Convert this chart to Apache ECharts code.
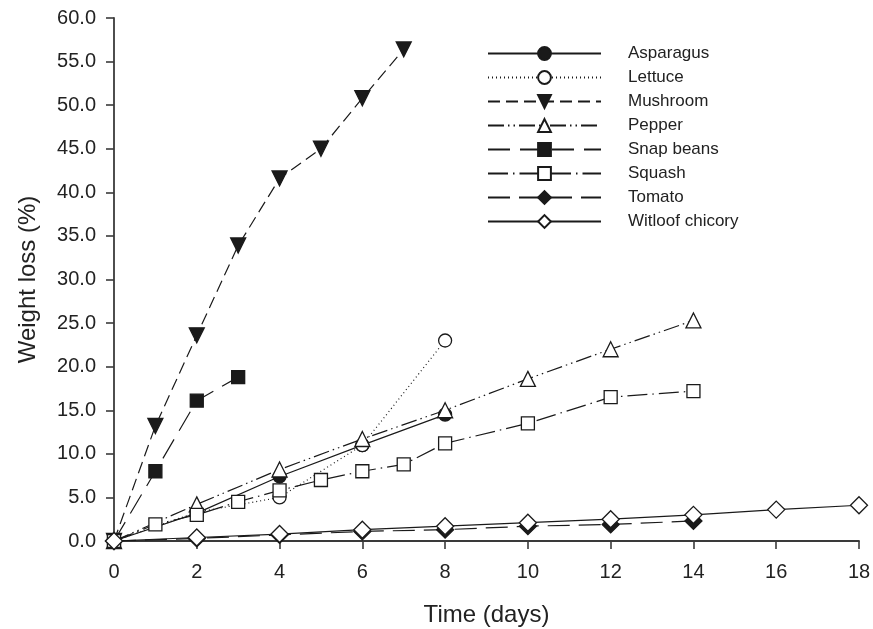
<!DOCTYPE html>
<html><head><meta charset="utf-8">
<script src="https://cdn.jsdelivr.net/npm/echarts@6/dist/echarts.min.js"></script>
<style>html,body{margin:0;padding:0;background:#fff}#c{width:873px;height:629px}</style>
</head><body><div id="c"></div>
<script>
const xTicks = [0,2,4,6,8,10,12,14,16,18];
const asparagusX = [0,2,4,6,8];
const asparagusY = [0,3.2,7.4,11.0,14.5];
const lettuceX = [0,2,4,6,8];
const lettuceY = [0,3.3,5.0,11.0,23.0];
const mushroomX = [0,1,2,3,4,5,6,7];
const mushroomY = [0,13.2,23.6,33.9,41.6,45.0,50.8,56.4];
const pepperX = [0,2,4,6,8,10,12,14];
const pepperY = [0,4.2,8.2,11.7,15.0,18.6,22.0,25.3];
const snapX = [0,1,2,3];
const snapY = [0,8.0,16.1,18.8];
const squashX = [0,1,2,3,4,5,6,7,8,10,12,14];
const squashY = [0,1.9,3.0,4.5,5.8,7.0,8.0,8.8,11.2,13.5,16.5,17.2];
const tomatoX = [0,2,4,6,8,10,12,14];
const tomatoY = [0,0.3,0.7,1.1,1.3,1.7,1.9,2.3];
const witloofX = [0,2,4,6,8,10,12,14,16,18];
const witloofY = [0,0.4,0.8,1.3,1.7,2.1,2.5,3.0,3.6,4.1];

const zip = (xs, ys) => xs.map((x, i) => [x, ys[i]]);
const C = '#1a1a1a';
function mk(name, xs, ys, symbol, filled, dash, size) {
  return {
    name, type: 'line', data: zip(xs, ys), symbol, symbolSize: size,
    lineStyle: { color: C, width: 1.2, type: dash },
    itemStyle: { color: filled ? C : '#fff', borderColor: C, borderWidth: 1.3 },
    z: filled ? 3 : 4, animation: false
  };
}
const series = [
  mk('Asparagus', asparagusX, asparagusY, 'circle', true, 'solid', 13),
  mk('Lettuce', lettuceX, lettuceY, 'circle', false, [1, 3], 13),
  mk('Mushroom', mushroomX, mushroomY, 'path://M0,0 L10,0 L5,9 Z', true, [12, 6], 15),
  mk('Pepper', pepperX, pepperY, 'triangle', false, [16, 4, 1.5, 4, 1.5, 4], 15),
  mk('Snap beans', snapX, snapY, 'rect', true, [22, 10], 13),
  mk('Squash', squashX, squashY, 'rect', false, [20, 5, 1.5, 5], 13),
  mk('Tomato', tomatoX, tomatoY, 'diamond', true, [22, 9], 17),
  mk('Witloof chicory', witloofX, witloofY, 'diamond', false, 'solid', 17)
];
const chart = echarts.init(document.getElementById('c'), null, { renderer: 'canvas' });
const AX = '#3a3a3a';
chart.setOption({
  backgroundColor: '#fff',
  textStyle: { fontFamily: 'Liberation Sans, Arial, sans-serif' },
  grid: { left: 114, right: 14, top: 18, bottom: 88, outerBoundsMode: 'none', containLabel: false },
  legend: {
    orient: 'vertical', left: 482, top: 40, itemWidth: 113, itemHeight: 16, itemGap: 7,
    textStyle: { fontSize: 17, color: '#222', padding: [0, 0, 0, 22] },
    data: series.map(s => s.name)
  },
  xAxis: {
    type: 'value', min: 0, max: 18, interval: 2,
    name: 'Time (days)', nameLocation: 'middle', nameGap: 62,
    nameTextStyle: { fontSize: 24, color: '#222' },
    axisLine: { lineStyle: { color: AX, width: 1.8 } },
    axisTick: { show: true, inside: false, length: 8, lineStyle: { color: AX, width: 1.6 } },
    axisLabel: { fontSize: 20, color: '#222', margin: 21 },
    splitLine: { show: false }
  },
  yAxis: {
    type: 'value', min: 0, max: 60, interval: 5,
    name: 'Weight loss (%)', nameLocation: 'middle', nameGap: 74,
    nameTextStyle: { fontSize: 24, color: '#222' },
    axisLine: { lineStyle: { color: AX, width: 1.8 } },
    axisTick: { show: true, inside: false, length: 8, lineStyle: { color: AX, width: 1.6 } },
    axisLabel: { fontSize: 20, color: '#222', margin: 18, formatter: v => v.toFixed(1) },
    splitLine: { show: false }
  },
  series
});
</script></body></html>
